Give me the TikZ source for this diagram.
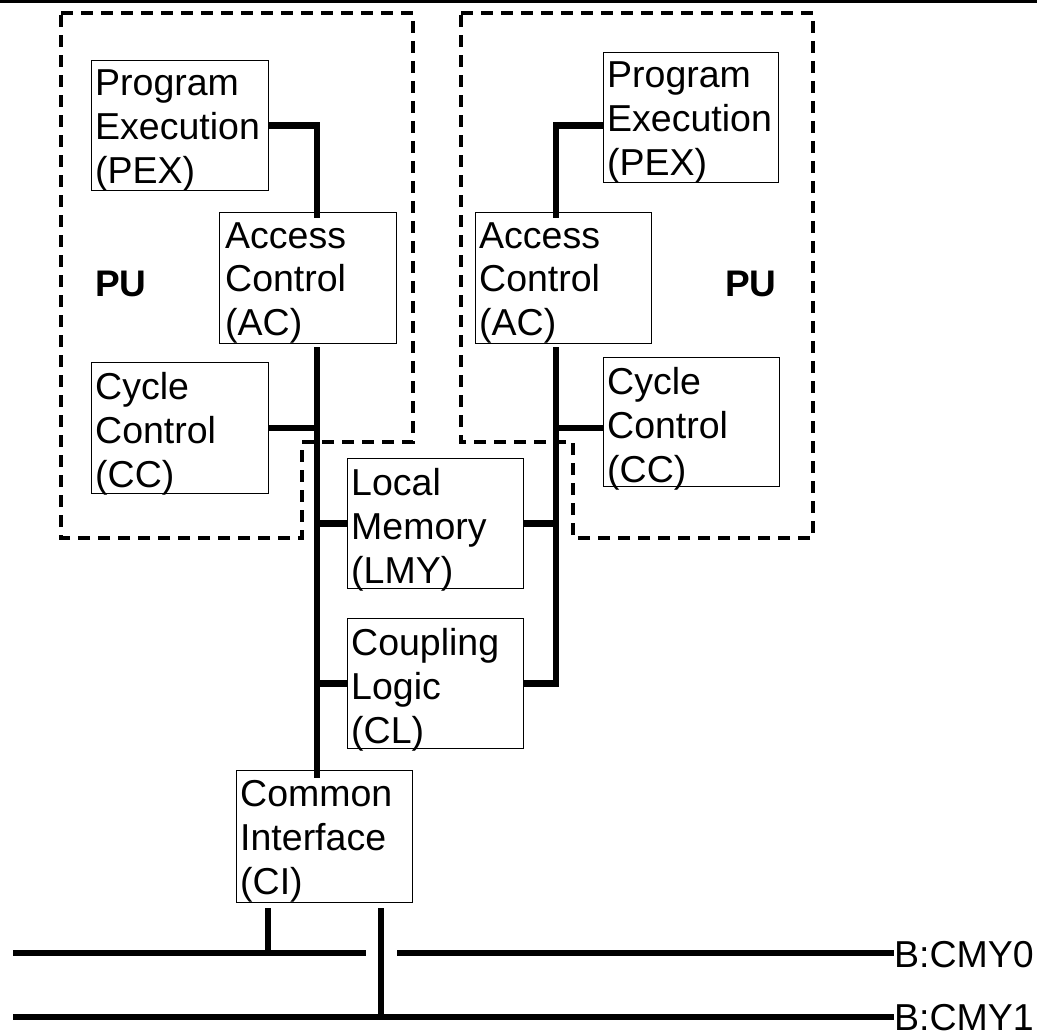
\documentclass[tikz,border=0pt]{standalone}
\usepackage{fontspec}
\setmainfont{Liberation Sans}
\usetikzlibrary{calc}

\tikzset{
  block/.style={draw, line width=1.2pt, inner sep=0pt, anchor=north west},
  blocktext/.style={anchor=north west, align=left, inner sep=0pt,
                    font={\fontsize{37.5pt}{44pt}\selectfont}},
  wire/.style={line width=6.5pt},
  puframe/.style={line width=4.5pt, dash pattern=on 12pt off 8pt},
  pulabel/.style={inner sep=0pt, anchor=base west, font={\fontsize{37pt}{44pt}\selectfont\bfseries}},
  buslabel/.style={inner sep=0pt, anchor=base west, font={\fontsize{37.5pt}{44pt}\selectfont}}
}

\begin{document}
\begin{tikzpicture}[x=1pt, y=-1pt]
\useasboundingbox (0,0) rectangle (1037,1035);

% rule along the top edge
\draw[line width=2.5pt] (0,1.5) -- (1037,1.5);

% processing unit outlines
\draw[puframe] (61,13) -- (413,13) -- (413,442) -- (302,442) -- (302,538) -- (61,538) -- cycle;
\draw[puframe] (461,13) -- (813,13) -- (813,538) -- (573,538) -- (573,442) -- (461,442) -- cycle;

\node[pulabel] (puL) at (95,297) {PU};
\node[pulabel] (puR) at (725,297) {PU};

% left unit
\node[block, minimum width=177pt, minimum height=130pt] (pexL) at (91,60) {};
\node[blocktext] (pexLt) at ($(pexL.north west)+(4,10)$) {Program\\Execution\\(PEX)};
\node[block, minimum width=177pt, minimum height=131pt] (acL) at (219,212) {};
\node[blocktext] (acLt) at ($(acL.north west)+(6,10)$) {Access\\Control\\(AC)};
\node[block, minimum width=177pt, minimum height=131pt] (ccL) at (91,362) {};
\node[blocktext] (ccLt) at ($(ccL.north west)+(4,10)$) {Cycle\\Control\\(CC)};

% right unit
\node[block, minimum width=175pt, minimum height=130pt] (pexR) at (603,52) {};
\node[blocktext] (pexRt) at ($(pexR.north west)+(4,10)$) {Program\\Execution\\(PEX)};
\node[block, minimum width=176pt, minimum height=131pt] (acR) at (475,212) {};
\node[blocktext] (acRt) at ($(acR.north west)+(4,10)$) {Access\\Control\\(AC)};
\node[block, minimum width=176pt, minimum height=129pt] (ccR) at (603,357) {};
\node[blocktext] (ccRt) at ($(ccR.north west)+(4,10)$) {Cycle\\Control\\(CC)};

% shared blocks
\node[block, minimum width=176pt, minimum height=130pt] (lmy) at (347,458) {};
\node[blocktext] (lmyt) at ($(lmy.north west)+(4,10)$) {Local\\Memory\\(LMY)};
\node[block, minimum width=176pt, minimum height=130pt] (cl) at (347,618) {};
\node[blocktext] (clt) at ($(cl.north west)+(4,10)$) {Coupling\\Logic\\(CL)};
\node[block, minimum width=176pt, minimum height=132pt] (ci) at (236,770) {};
\node[blocktext] (cit) at ($(ci.north west)+(4,10)$) {Common\\Interface\\(CI)};

% internal buses
\coordinate (busL) at (317,0);
\coordinate (busR) at (556,0);

\draw[wire] (pexL.east) -| ($(acL.north -| busL)+(0,6)$);
\draw[wire] ($(acL.south -| busL)+(0,3)$) -- ($(ci.north -| busL)+(0,8)$);
\draw[wire] (ccL.east) -- (ccL.east -| busL);
\draw[wire] (lmy.west -| busL) -- (lmy.west);
\draw[wire] (cl.west -| busL) -- (cl.west);

\draw[wire] (pexR.west |- pexL.east) -| ($(acR.north -| busR)+(0,6)$);
\draw[wire] ($(acR.south -| busR)+(0,3)$) |- (cl.east);
\draw[wire] (ccR.west |- ccL.east) -- (ccL.east -| busR);
\draw[wire] (lmy.east) -- (lmy.east -| busR);

% system buses
\node[buslabel] (cmy0) at (894,967) {B:CMY0};
\node[buslabel] (cmy1) at (894,1030) {B:CMY1};

\coordinate (b0a) at (13,953);
\coordinate (b0b) at (366,953);
\coordinate (b0c) at (397,953);
\coordinate (b1a) at (13,1017);
\coordinate (tap0) at (268,953);
\coordinate (tap1) at (381,1017);

\draw[wire] (b0a) -- (b0b);
\draw[wire] (b0c) -- (cmy0.west |- b0c);
\draw[wire] (b1a) -- (cmy1.west |- b1a);

\draw[wire] ($(ci.south west)+(32,5)$) -- (tap0);
\draw[wire] ($(ci.south west)+(145,5)$) -- (tap1);
\end{tikzpicture}
\end{document}
